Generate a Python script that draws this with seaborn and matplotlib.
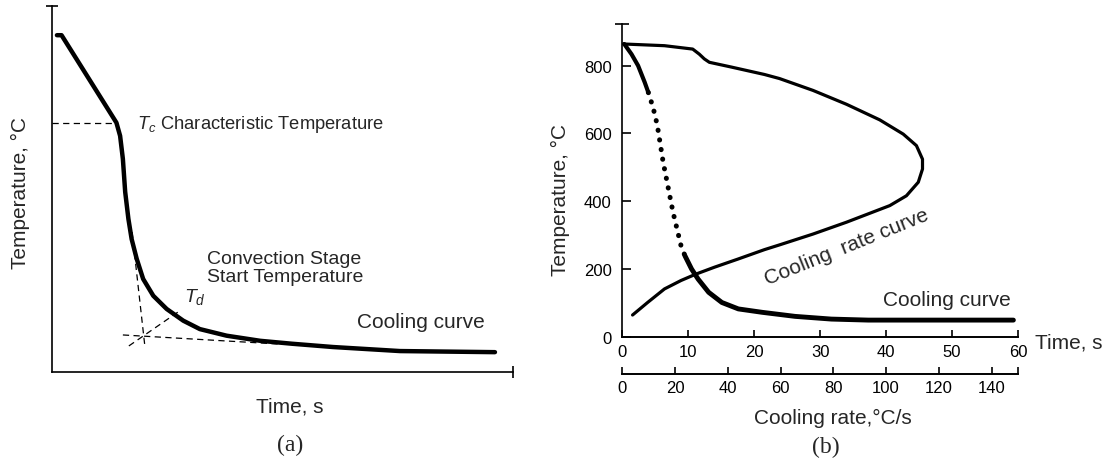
import matplotlib
matplotlib.use("Agg")
import matplotlib.pyplot as plt
import seaborn as sns

# ---------------- Panel (a): schematic cooling curve (arbitrary units) ----------------
a_time = [1.0, 2.0, 13.9, 14.7, 15.3, 15.8, 16.5, 17.2, 18.3, 19.7, 21.9, 24.8,
          28.4, 32.0, 37.8, 45.1, 52.0, 60.9, 75.4, 96.0]
a_temp = [92.1, 92.1, 68.2, 64.6, 58.3, 49.3, 41.9, 36.4, 31.0, 25.5, 20.9, 17.3,
          14.1, 11.8, 10.0, 8.6, 7.8, 6.9, 5.8, 5.5]

# construction (dashed) lines
tc_line_t = [0.0, 13.9]
tc_line_T = [68.2, 68.2]
tangent_steep_t = [17.3, 20.1]
tangent_steep_T = [38.3, 6.8]
tangent_flat_t = [15.3, 49.4]
tangent_flat_T = [10.2, 7.7]
bisector_t = [16.6, 27.3]
bisector_T = [7.2, 16.5]

# ---------------- Panel (b): measured curves ----------------
# cooling curve: time (s) vs temperature (°C)
cool_time = [0.3, 1.4, 2.4, 3.4, 3.95, 4.5, 5.0, 5.4, 5.8, 6.2, 6.7, 7.2, 7.7, 8.3,
             8.9, 9.5, 10.5, 11.5, 13.1, 15.1, 17.6, 21.2, 26.2, 31.7, 37.3, 42.8,
             48.4, 59.3]
cool_temp = [864, 834, 800, 751, 721, 687, 652, 613, 564, 515, 466, 416, 367, 318,
             269, 239, 200, 170, 131, 101, 82, 72, 60, 52, 49, 49, 49, 49]
dotted_start, dotted_end = 4, 15   # indices bounding the dotted section

# cooling rate curve: cooling rate (°C/s) vs temperature (°C)
rate_vals = [3.9, 9.6, 16.0, 22.3, 28.0, 34.9, 43.8, 53.9, 59.6, 72.3, 85.0, 101.4,
             107.7, 112.2, 113.8, 113.8, 111.5, 106.5, 97.6, 85.0, 72.3, 59.6, 53.9,
             41.3, 33.0, 31.1, 29.2, 26.7, 16.0, 0.5]
rate_temp = [64, 101, 141, 166, 185, 205, 229, 257, 271, 303, 338, 387,
             416, 456, 495, 524, 564, 598, 640, 686, 727, 762, 774,
             796, 810, 820, 834, 849, 859, 864]

time_ticks = [0, 10, 20, 30, 40, 50, 60]
rate_ticks = [0, 20, 40, 60, 80, 100, 120, 140]
temp_ticks = [0, 200, 400, 600, 800]

# ---------------- style ----------------
sns.set_style("ticks")
plt.rcParams["font.family"] = ["Liberation Sans", "DejaVu Sans"]
plt.rcParams["mathtext.fontset"] = "custom"
plt.rcParams["mathtext.it"] = "Liberation Sans:italic"
plt.rcParams["mathtext.rm"] = "Liberation Sans"
plt.rcParams["axes.linewidth"] = 1.2
plt.rcParams["axes.edgecolor"] = "black"
plt.rcParams["xtick.color"] = "black"
plt.rcParams["ytick.color"] = "black"

fig = plt.figure(figsize=(11.11, 4.64), dpi=100)
fig.patch.set_facecolor("white")

# ================= Panel (a) =================
ax_a = fig.add_axes([0.0471, 0.1955, 0.4150, 0.7888])
sns.lineplot(x=a_time, y=a_temp, ax=ax_a, color="black", lw=3.2, sort=False,
             estimator=None, solid_capstyle="round", solid_joinstyle="round")
dash_kw = dict(color="black", lw=0.9, linestyle=(0, (5, 3.5)), sort=False, estimator=None)
sns.lineplot(x=tc_line_t, y=tc_line_T, ax=ax_a, **dash_kw)
sns.lineplot(x=tangent_steep_t, y=tangent_steep_T, ax=ax_a, **dash_kw)
sns.lineplot(x=tangent_flat_t, y=tangent_flat_T, ax=ax_a, **dash_kw)
sns.lineplot(x=bisector_t, y=bisector_T, ax=ax_a, **dash_kw)

ax_a.set_xlim(0, 100)
ax_a.set_ylim(0, 100)
ax_a.set_xticks([])
ax_a.set_yticks([])
ax_a.set_xticks([100], minor=True)
ax_a.set_yticks([100], minor=True)
ax_a.tick_params(which="minor", direction="inout", length=9, width=1.2)
ax_a.spines["top"].set_visible(False)
ax_a.spines["right"].set_visible(False)
ax_a.set_facecolor("white")

ax_a.set_xlabel("Time, s", fontsize=15, va="center")
ax_a.xaxis.set_label_coords(0.515, -0.092)
ax_a.set_ylabel("Temperature, °C", fontsize=15, va="center")
ax_a.yaxis.set_label_coords(-0.070, 0.493)

ax_a.text(18.4, 68.1, r"$T_c$ Characteristic Temperature", fontsize=13.2,
          ha="left", va="center")
ax_a.text(33.6, 31.0, "Convection Stage", fontsize=14, ha="left", va="center")
ax_a.text(33.6, 26.3, "Start Temperature", fontsize=14, ha="left", va="center")
ax_a.text(28.6, 20.8, r"$T_d$", fontsize=14, ha="left", va="center")
ax_a.text(66.1, 14.0, "Cooling curve", fontsize=15, ha="left", va="center")

# ================= Panel (b) =================
ax_b = fig.add_axes([0.5601, 0.2722, 0.3562, 0.6739])
ax_b.set_facecolor("white")
sol1_t = cool_time[:dotted_start + 1]
sol1_T = cool_temp[:dotted_start + 1]
dot_t = cool_time[dotted_start:dotted_end + 1]
dot_T = cool_temp[dotted_start:dotted_end + 1]
sol2_t = cool_time[dotted_end:]
sol2_T = cool_temp[dotted_end:]
sns.lineplot(x=sol1_t, y=sol1_T, ax=ax_b, color="black", lw=3.0, estimator=None,
             solid_capstyle="round", solid_joinstyle="round")
sns.lineplot(x=dot_t, y=dot_T, ax=ax_b, color="black", lw=3.6, estimator=None,
             linestyle=(0, (0.05, 1.9)), dash_capstyle="round")
sns.lineplot(x=sol2_t, y=sol2_T, ax=ax_b, color="black", lw=3.5, estimator=None,
             solid_capstyle="round", solid_joinstyle="round")

ax_b.set_xlim(0, 60)
ax_b.set_ylim(0, 923)
ax_b.set_xticks(time_ticks)
ax_b.set_xticklabels([str(v) for v in time_ticks])
ax_b.set_yticks(temp_ticks)
ax_b.set_yticklabels([str(v) for v in temp_ticks])
ax_b.set_yticks([923], minor=True)
ax_b.tick_params(axis="x", which="major", direction="in", length=5, width=1.2,
                 labelsize=12, pad=5)
ax_b.tick_params(axis="y", which="major", direction="in", length=6.5, width=1.2,
                 labelsize=12, pad=7.5)
ax_b.tick_params(axis="y", which="minor", direction="inout", length=9.5, width=1.2)
ax_b.spines["top"].set_visible(False)
ax_b.spines["right"].set_visible(False)
ax_b.spines["bottom"].set_linewidth(1.4)

ax_b.set_xlabel("Time, s", fontsize=15, ha="left", va="center")
ax_b.xaxis.set_label_coords(1.043, -0.017)
ax_b.set_ylabel("Temperature, °C", fontsize=15, va="center")
ax_b.yaxis.set_label_coords(-0.157, 0.44)

# second x axis: cooling rate
ax_r = ax_b.twiny()
sns.lineplot(x=rate_vals, y=rate_temp, ax=ax_r, color="black", lw=2.3, sort=False,
             estimator=None, solid_capstyle="round", solid_joinstyle="round")
ax_r.set_xlim(0, 150)
ax_r.set_ylim(0, 923)
ax_r.xaxis.set_ticks_position("bottom")
ax_r.xaxis.set_label_position("bottom")
ax_r.spines["bottom"].set_position(("outward", 26.9))
for side in ("top", "left", "right"):
    ax_r.spines[side].set_visible(False)
ax_r.spines["bottom"].set_visible(True)
ax_r.spines["bottom"].set_linewidth(1.4)
ax_r.set_xticks(rate_ticks)
ax_r.set_xticklabels([str(v) for v in rate_ticks])
ax_r.set_xticks([150], minor=True)
ax_r.tick_params(axis="x", which="both", direction="in", length=5, width=1.2,
                 labelsize=12, pad=4.5)
ax_r.set_xlabel("Cooling rate,°C/s", fontsize=15, va="center")
ax_r.xaxis.set_label_coords(0.532, -0.257)

ax_b.text(39.5, 111, "Cooling curve", fontsize=15, ha="left", va="center")
ax_b.text(34.0, 268, "Cooling  rate curve", fontsize=15, ha="center", va="center",
          rotation=22, rotation_mode="anchor")

# panel labels
fig.text(290 / 1111, 1 - 445 / 464, "(a)", family="Liberation Serif", fontsize=17,
         ha="center", va="center")
fig.text(826 / 1111, 1 - 447 / 464, "(b)", family="Liberation Serif", fontsize=17,
         ha="center", va="center")

fig.savefig("out.png", dpi=100, facecolor="white")
